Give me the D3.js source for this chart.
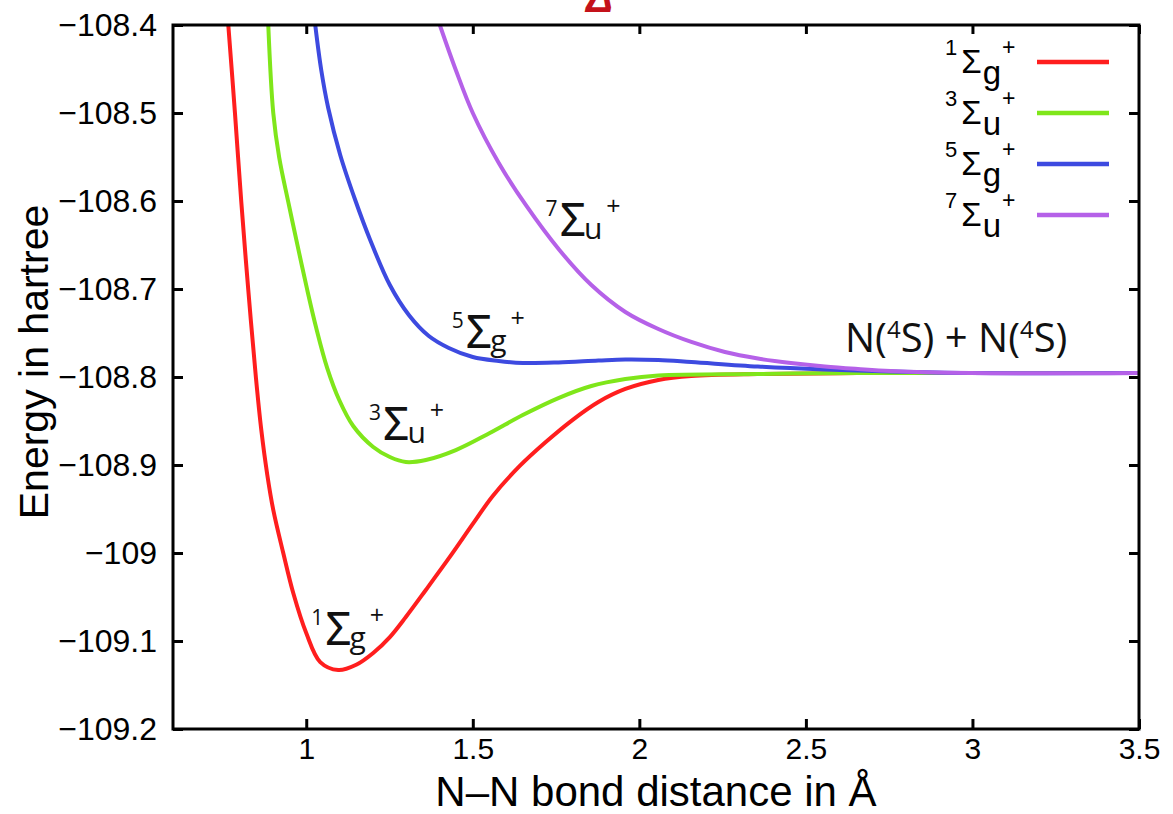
<!DOCTYPE html>
<html>
<head>
<meta charset="utf-8">
<script src="https://cdn.jsdelivr.net/npm/d3@7"></script>
<style>
  html, body { margin: 0; padding: 0; background: #fff; }
  svg { display: block; }
</style>
</head>
<body>
<svg id="chart" width="1173" height="814"></svg>
<script>
// N2 potential energy curves (energy in hartree vs N–N distance in Å)
const stateNames = ["1Σg+", "3Σu+", "5Σg+", "7Σu+"];
const stateColors = ["#ff1e1e", "#7fe61a", "#3d4ae0", "#b561e8"];

// 1Σg+
const rSinglet = [0.766, 0.786, 0.805, 0.826, 0.849, 0.865, 0.883, 0.901, 0.931, 0.961, 1.000, 1.042, 1.096, 1.150, 1.201, 1.251, 1.299, 1.359, 1.431, 1.500, 1.560, 1.641, 1.719, 1.799, 1.877, 1.958, 2.057, 2.156, 2.356, 2.656, 3.000, 3.500];
const eSinglet = [-108.400, -108.500, -108.601, -108.701, -108.801, -108.860, -108.911, -108.951, -109.000, -109.0455, -109.091, -109.124, -109.133, -109.127, -109.1136, -109.0955, -109.0727, -109.042, -109.0045, -108.967, -108.9352, -108.9011, -108.8739, -108.8489, -108.8284, -108.8136, -108.8034, -108.7989, -108.7966, -108.7955, -108.7955, -108.7955];

// 3Σu+
const rTriplet = [0.886, 0.901, 0.919, 0.946, 0.973, 1.003, 1.030, 1.063, 1.099, 1.141, 1.201, 1.251, 1.299, 1.359, 1.449, 1.551, 1.650, 1.757, 1.856, 1.958, 2.057, 2.356, 2.656, 3.000, 3.500];
const eTriplet = [-108.400, -108.500, -108.551, -108.601, -108.649, -108.701, -108.7443, -108.7898, -108.8261, -108.8557, -108.8795, -108.8909, -108.8966, -108.8943, -108.883, -108.8636, -108.8432, -108.8239, -108.8102, -108.8023, -108.7983, -108.7966, -108.7955, -108.7955, -108.7955];

// 5Σg+
const rQuintet = [1.027, 1.045, 1.066, 1.102, 1.147, 1.192, 1.251, 1.308, 1.368, 1.428, 1.500, 1.578, 1.650, 1.757, 1.877, 1.958, 2.057, 2.156, 2.356, 2.557, 2.754, 2.994, 3.500];
const eQuintet = [-108.400, -108.4511, -108.4943, -108.5477, -108.5989, -108.6443, -108.6955, -108.7295, -108.7534, -108.767, -108.7773, -108.7818, -108.7841, -108.7835, -108.7813, -108.7801, -108.7807, -108.783, -108.7881, -108.7915, -108.7938, -108.7955, -108.7955];

// 7Σu+
const rSeptet = [1.401, 1.449, 1.500, 1.578, 1.659, 1.760, 1.856, 1.958, 2.057, 2.156, 2.257, 2.356, 2.455, 2.557, 2.656, 2.754, 2.994, 3.500];
const eSeptet = [-108.400, -108.4511, -108.500, -108.5568, -108.6045, -108.6557, -108.6955, -108.7261, -108.7455, -108.7602, -108.7716, -108.779, -108.7841, -108.7881, -108.7909, -108.7932, -108.7955, -108.7955];

const xTicks = [1, 1.5, 2, 2.5, 3, 3.5];
const xTickLabels = ["1", "1.5", "2", "2.5", "3", "3.5"];
const yTicks = [-108.4, -108.5, -108.6, -108.7, -108.8, -108.9, -109, -109.1, -109.2];
const yTickLabels = ["\u2212108.4", "\u2212108.5", "\u2212108.6", "\u2212108.7", "\u2212108.8", "\u2212108.9", "\u2212109", "\u2212109.1", "\u2212109.2"];

// curve labels: [spin multiplicity, symmetry subscript] and where each one starts
const curveLabelParts = [["1", "g"], ["3", "u"], ["5", "g"], ["7", "u"]];
const curveLabelAnchors = [[1.015, -109.1045], [1.1886, -108.8716], [1.437, -108.767], [1.7186, -108.6398]];
const asymptoteLabel = ["N(", "4", "S) + N(", "4", "S)"];

const series = [
  {r: rSinglet, e: eSinglet},
  {r: rTriplet, e: eTriplet},
  {r: rQuintet, e: eQuintet},
  {r: rSeptet, e: eSeptet}
];

const svg = d3.select("#chart");
const M = {left: 173, right: 1139, top: 25, bottom: 729};

const x = d3.scaleLinear().domain([0.6, 3.5]).range([M.left, M.right]);
const y = d3.scaleLinear().domain([-109.2, -108.4]).range([M.bottom, M.top]);

const axisFont = "'Liberation Sans', Arial, Helvetica, sans-serif";
const labelFont = "'Open Sans', 'Noto Sans', sans-serif";

svg.append("defs").append("clipPath").attr("id", "plotClip")
  .append("rect")
  .attr("x", M.left).attr("y", M.top)
  .attr("width", M.right - M.left).attr("height", M.bottom - M.top);

// cropped panel mark above the frame
svg.append("text")
  .attr("x", 586).attr("y", 12)
  .attr("font-family", axisFont)
  .attr("font-size", 40)
  .attr("font-weight", "bold")
  .attr("font-style", "italic")
  .attr("fill", "#c4121a")
  .text("Δ");

// axes (ticks point inward, mirrored on top and right)
function styleAxis(g, size) {
  g.select(".domain").remove();
  g.selectAll(".tick line").attr("stroke", "#000").attr("stroke-width", 3);
  g.selectAll(".tick text")
    .attr("font-family", axisFont)
    .attr("font-size", size)
    .attr("fill", "#000");
}

svg.append("g")
  .attr("transform", `translate(0,${M.bottom})`)
  .call(d3.axisBottom(x).tickValues(xTicks).tickSize(-10).tickPadding(9)
    .tickFormat((d, i) => xTickLabels[i]))
  .call(styleAxis, 30);

svg.append("g")
  .attr("transform", `translate(0,${M.top})`)
  .call(d3.axisTop(x).tickValues(xTicks).tickSize(-9).tickFormat(""))
  .call(styleAxis, 30);

svg.append("g")
  .attr("transform", `translate(${M.left},0)`)
  .call(d3.axisLeft(y).tickValues(yTicks).tickSize(-10).tickPadding(16)
    .tickFormat((d, i) => yTickLabels[i]))
  .call(styleAxis, 32);

svg.append("g")
  .attr("transform", `translate(${M.right},0)`)
  .call(d3.axisRight(y).tickValues(yTicks).tickSize(-10).tickFormat(""))
  .call(styleAxis, 32);

// curves
const line = d3.line()
  .x(d => x(d[0]))
  .y(d => y(d[1]))
  .curve(d3.curveCatmullRom.alpha(0.5));

const curves = svg.append("g").attr("clip-path", "url(#plotClip)");
series.forEach((s, i) => {
  const pts = s.r.map((r, k) => [r, s.e[k]]);
  curves.append("path")
    .datum(pts)
    .attr("d", line)
    .attr("fill", "none")
    .attr("stroke", stateColors[i])
    .attr("stroke-width", 4)
    .attr("stroke-linejoin", "round")
    .attr("stroke-linecap", "round");
});

// frame
svg.append("rect")
  .attr("x", M.left).attr("y", M.top)
  .attr("width", M.right - M.left).attr("height", M.bottom - M.top)
  .attr("fill", "none").attr("stroke", "#000").attr("stroke-width", 3);

// term symbol labels on the curves
curveLabelParts.forEach((p, i) => {
  const [ax, ay] = curveLabelAnchors[i];
  const t = svg.append("text")
    .attr("x", x(ax)).attr("y", y(ay))
    .attr("font-family", labelFont)
    .attr("fill", "#111");
  t.append("tspan").attr("font-size", 21).attr("dy", -20).text(p[0]);
  t.append("tspan").attr("font-size", 46).attr("font-family", "'Noto Sans', sans-serif")
    .attr("dx", 2).attr("dy", 20).text("Σ");
  t.append("tspan").attr("font-size", 30).attr("dx", -2).attr("dy", 3).text(p[1]);
  t.append("tspan").attr("font-size", 25).attr("dx", 4).attr("dy", -24).text("+");
});

// dissociation limit label
const asy = svg.append("text")
  .attr("x", 845).attr("y", 352)
  .attr("font-family", labelFont)
  .attr("font-size", 40)
  .attr("fill", "#111");
asymptoteLabel.forEach((s, i) => {
  const sup = i % 2 === 1;
  asy.append("tspan")
    .attr("font-size", sup ? 24 : 40)
    .attr("dy", sup ? -14 : (i === 0 ? 0 : 14))
    .text(s);
});

// legend
const legend = svg.append("g");
stateNames.forEach((name, i) => {
  const ly = 62 + i * 51;
  const t = legend.append("text")
    .attr("x", 945).attr("y", ly + 11)
    .attr("font-family", axisFont)
    .attr("fill", "#000");
  t.append("tspan").attr("font-size", 22).attr("dy", -18).text(curveLabelParts[i][0]);
  t.append("tspan").attr("font-size", 33).attr("dx", 4).attr("dy", 18).text("Σ");
  t.append("tspan").attr("font-size", 33).attr("dx", 1).attr("dy", 11).text(curveLabelParts[i][1]);
  t.append("tspan").attr("font-size", 23).attr("dx", 1).attr("dy", -29).text("+");
  legend.append("line")
    .attr("x1", 1037).attr("x2", 1109)
    .attr("y1", ly).attr("y2", ly)
    .attr("stroke", stateColors[i])
    .attr("stroke-width", 4.5);
});

// axis titles
svg.append("text")
  .attr("x", 656).attr("y", 806)
  .attr("text-anchor", "middle")
  .attr("font-family", axisFont)
  .attr("font-size", 42)
  .attr("fill", "#000")
  .text("N\u2013N bond distance in Å");

svg.append("text")
  .attr("transform", "translate(48,362) rotate(-90)")
  .attr("text-anchor", "middle")
  .attr("font-family", axisFont)
  .attr("font-size", 41)
  .attr("fill", "#000")
  .text("Energy in hartree");
</script>
</body>
</html>
